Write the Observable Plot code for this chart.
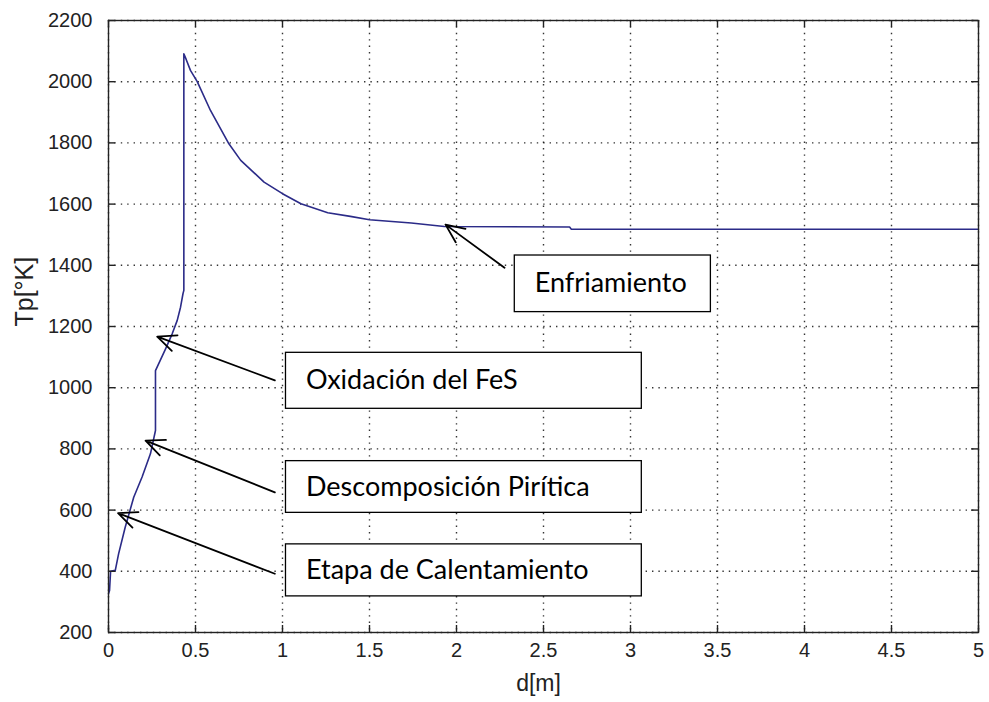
<!DOCTYPE html>
<html><head><meta charset="utf-8">
<script src="https://cdn.jsdelivr.net/npm/d3@7"></script>
<script src="https://cdn.jsdelivr.net/npm/@observablehq/plot@0.6"></script>
<style>
body{margin:0;background:#fff;}
#chart svg{display:block;}
</style>
</head><body><div id="chart"></div>
<script>
// Particle temperature Tp [K] along distance d [m]
const distance    = [0, 0.006, 0.012, 0.039, 0.058, 0.096, 0.145, 0.193, 0.241, 0.27, 0.27, 0.328, 0.366, 0.395, 0.414, 0.428, 0.433, 0.433, 0.447, 0.471, 0.51, 0.586, 0.692, 0.76, 0.894, 1.0, 1.106, 1.26, 1.39, 1.5, 1.74, 1.93, 2.3, 2.65, 2.66, 5.0];
const temperature = [327, 337, 400, 403, 457, 544, 642, 708, 784, 860, 1056, 1127, 1176, 1220, 1263, 1307, 1318, 2091, 2072, 2037, 2000, 1906, 1797, 1743, 1672, 1634, 1601, 1572, 1560, 1549, 1538, 1527, 1526, 1525, 1518, 1518];

const xTicks = [0, 0.5, 1, 1.5, 2, 2.5, 3, 3.5, 4, 4.5, 5];
const yTicks = [200, 400, 600, 800, 1000, 1200, 1400, 1600, 1800, 2000, 2200];
const xLabel = "d[m]";
const yLabel = "Tp[°K]";

// annotation boxes (data coordinates) and arrows
const annotationLabels = ["Enfriamiento", "Oxidación del FeS", "Descomposición Pirítica", "Etapa de Calentamiento"];
const boxLeft   = [2.335, 1.02, 1.02, 1.02];
const boxRight  = [3.462, 3.065, 3.065, 3.065];
const boxTop    = [1432, 1114, 760, 488];
const boxBottom = [1247, 931, 591, 318];
const arrowFromD = [2.276, 0.956, 0.956, 0.956];
const arrowFromT = [1392, 1024, 658, 392];
const arrowToD   = [1.937, 0.28, 0.213, 0.055];
const arrowToT   = [1533, 1167, 827, 590];

const curve = distance.map((d, i) => ({d, T: temperature[i]}));
const notes = annotationLabels.map((label, i) => ({
  label, x1: boxLeft[i], x2: boxRight[i], y1: boxBottom[i], y2: boxTop[i],
  ym: (boxBottom[i] + boxTop[i]) / 2,
  ax1: arrowFromD[i], ay1: arrowFromT[i], ax2: arrowToD[i], ay2: arrowToT[i]
}));

const W = 989, H = 702, ML = 108, MR = 11, MT = 20, MB = 70;
const plotW = W - ML - MR, plotH = H - MT - MB, tickLen = 7;
const tickFont = "'Liberation Sans', Arial, sans-serif";
const gridStyle = {stroke: "#111", strokeOpacity: 0.85, strokeWidth: 1.4, strokeDasharray: "1.4,5"};
const tickStyle = {stroke: "#222", strokeWidth: 1.4};

const chart = Plot.plot({
  width: W,
  height: H,
  marginLeft: ML,
  marginRight: MR,
  marginTop: MT,
  marginBottom: MB,
  style: {fontFamily: tickFont, fontSize: "20px", color: "#222", background: "#fff"},
  x: {domain: [0, 5], nice: false},
  y: {domain: [200, 2200], nice: false},
  marks: [
    Plot.gridX(xTicks, gridStyle),
    Plot.gridY(yTicks, gridStyle),
    Plot.line(curve, {x: "d", y: "T", stroke: "#2b2b88", strokeWidth: 1.6}),
    Plot.rect(notes, {x1: "x1", x2: "x2", y1: "y1", y2: "y2", fill: "#fff", stroke: "#000", strokeWidth: 1.3}),
    Plot.arrow(notes, {x1: "ax1", y1: "ay1", x2: "ax2", y2: "ay2", stroke: "#000", strokeWidth: 1.8, headLength: 17, headAngle: 48}),
    Plot.text(notes, {x: "x1", y: "ym", text: "label", textAnchor: "start", dx: 20, fontFamily: "Lato, 'Open Sans', sans-serif", fontSize: 27, fill: "#000"}),
    // inward ticks on all four sides
    Plot.tickX(xTicks, {x: d => d, insetTop: plotH - tickLen, ...tickStyle}),
    Plot.tickX(xTicks, {x: d => d, insetBottom: plotH - tickLen, ...tickStyle}),
    Plot.tickY(yTicks, {y: d => d, insetRight: plotW - tickLen, ...tickStyle}),
    Plot.tickY(yTicks, {y: d => d, insetLeft: plotW - tickLen, ...tickStyle}),
    Plot.axisX(xTicks, {anchor: "bottom", tickSize: 0, tickPadding: 10, tickFormat: d => `${d}`, label: null}),
    Plot.axisY(yTicks, {anchor: "left", tickSize: 0, tickPadding: 16, tickFormat: d => `${d}`, label: null}),
    Plot.frame({stroke: "#222", strokeWidth: 1.4}),
    Plot.text([xLabel], {frameAnchor: "bottom", dx: -5, dy: 51, text: d => d, lineAnchor: "middle", fontSize: 23, fill: "#222"}),
    Plot.text([yLabel], {frameAnchor: "left", dx: -84, rotate: -90, text: d => d, lineAnchor: "middle", fontSize: 25, fill: "#222"})
  ]
});
document.getElementById("chart").append(chart);
</script>
</body></html>
